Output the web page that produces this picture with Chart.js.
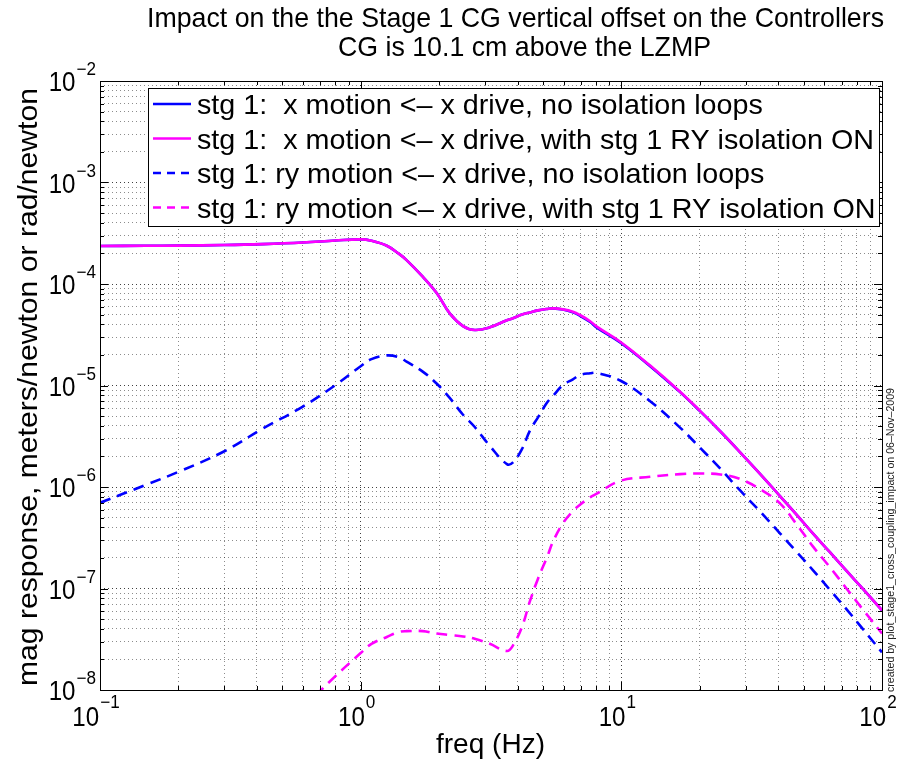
<!DOCTYPE html>
<html><head><meta charset="utf-8">
<script src="https://cdn.jsdelivr.net/npm/chart.js@4.4.1/dist/chart.umd.min.js"></script>
<style>html,body{margin:0;padding:0;background:#fff}canvas{display:block}</style>
</head><body>
<canvas id="c" width="905" height="763"></canvas>
<script>
// ---- data ----
const freq = [0.1, 0.15, 0.2, 0.3, 0.42, 0.6, 0.8, 1.0, 1.1, 1.26, 1.4, 1.5, 1.73, 1.96, 2.2, 2.47, 2.74, 3.13, 3.64, 3.84, 4.16, 4.46, 4.79, 5.19, 5.47, 5.97, 6.52, 6.94, 7.59, 8.05, 9.9, 12.9, 16.8, 20, 24, 28.5, 34.6, 40.6, 47, 54.3, 63, 73.3, 84.5, 100];
const xNoIso = [2.37e-4, 2.38e-4, 2.39e-4, 2.42e-4, 2.47e-4, 2.56e-4, 2.68e-4, 2.75e-4, 2.67e-4, 2.38e-4, 1.99e-4, 1.72e-4, 1.18e-4, 8.1e-5, 5.1e-5, 3.85e-5, 3.52e-5, 3.74e-5, 4.4e-5, 4.6e-5, 5.0e-5, 5.25e-5, 5.5e-5, 5.68e-5, 5.75e-5, 5.6e-5, 5.25e-5, 4.86e-5, 4.22e-5, 3.72e-5, 2.65e-5, 1.55e-5, 8.6e-6, 5.62e-6, 3.52e-6, 2.21e-6, 1.29e-6, 8.15e-7, 5.35e-7, 3.49e-7, 2.29e-7, 1.48e-7, 9.9e-8, 6.1e-8];
const xWithIso = [2.37e-4, 2.38e-4, 2.39e-4, 2.42e-4, 2.47e-4, 2.56e-4, 2.68e-4, 2.75e-4, 2.67e-4, 2.38e-4, 1.99e-4, 1.72e-4, 1.18e-4, 8.1e-5, 5.1e-5, 3.85e-5, 3.52e-5, 3.74e-5, 4.4e-5, 4.6e-5, 5.0e-5, 5.25e-5, 5.5e-5, 5.68e-5, 5.75e-5, 5.62e-5, 5.33e-5, 4.95e-5, 4.3e-5, 3.8e-5, 2.7e-5, 1.57e-5, 8.69e-6, 5.66e-6, 3.53e-6, 2.21e-6, 1.29e-6, 8.15e-7, 5.35e-7, 3.49e-7, 2.29e-7, 1.48e-7, 9.9e-8, 6.1e-8];
const ryNoIso = [7.0e-7, 1.05e-6, 1.41e-6, 2.25e-6, 3.75e-6, 6.2e-6, 1.01e-5, 1.55e-5, 1.82e-5, 1.98e-5, 1.9e-5, 1.72e-5, 1.37e-5, 1.04e-5, 7.5e-6, 5.15e-6, 3.9e-6, 2.54e-6, 1.68e-6, 1.75e-6, 2.37e-6, 3.6e-6, 4.86e-6, 6.8e-6, 7.9e-6, 1.01e-5, 1.15e-5, 1.27e-5, 1.32e-5, 1.33e-5, 1.12e-5, 7.0e-6, 3.85e-6, 2.45e-6, 1.51e-6, 9.3e-7, 5.5e-7, 3.5e-7, 2.3e-7, 1.52e-7, 9.75e-8, 6.2e-8, 3.98e-8, 2.35e-8];
const ryWithIso = [null, null, null, null, null, 6.6e-9, 1.37e-8, 2.31e-8, 2.85e-8, 3.33e-8, 3.73e-8, 3.8e-8, 3.8e-8, 3.6e-8, 3.48e-8, 3.37e-8, 3.2e-8, 2.85e-8, 2.42e-8, 2.75e-8, 4.2e-8, 7.5e-8, 1.25e-7, 2.04e-7, 2.9e-7, 4.4e-7, 5.8e-7, 6.7e-7, 7.9e-7, 8.6e-7, 1.15e-6, 1.26e-6, 1.34e-6, 1.36e-6, 1.33e-6, 1.2e-6, 9.3e-7, 6.9e-7, 4.3e-7, 2.6e-7, 1.63e-7, 9.9e-8, 6.2e-8, 3.6e-8];
const seriesLabels = [
  'stg 1:  x motion <\u2013 x drive, no isolation loops',
  'stg 1:  x motion <\u2013 x drive, with stg 1 RY isolation ON',
  'stg 1: ry motion <\u2013 x drive, no isolation loops',
  'stg 1: ry motion <\u2013 x drive, with stg 1 RY isolation ON'
];
const titleLines = ['Impact on the the Stage 1 CG vertical offset on the Controllers', 'CG is 10.1 cm above the LZMP'];
const xAxisTitle = 'freq (Hz)';
const yAxisTitle = 'mag response, meters/newton or rad/newton';
const footnote = 'created by plot_stage1_cross_coupling_impact on 06\u2013Nov\u20132009';
const xTickExps = [-1, 0, 1, 2];
const yTickExps = [-8, -7, -6, -5, -4, -3, -2];

// ---- helpers ----
const FONT = '"Liberation Sans", Arial, Helvetica, sans-serif';
function decadeValues(exps) {
  const out = [];
  for (let i = 0; i < exps.length - 1; i++) {
    for (let k = 1; k <= 9; k++) out.push(k * Math.pow(10, exps[i]));
  }
  out.push(Math.pow(10, exps[exps.length - 1]));
  return out;
}
function isMajor(v) { const l = Math.log10(v); return Math.abs(l - Math.round(l)) < 1e-9; }
const xGridVals = decadeValues(xTickExps);
const yGridVals = decadeValues(yTickExps);
const pts = arr => freq.map((f, i) => ({ x: f, y: arr[i] })).filter(p => p.y !== null);

function txt(ctx, s, x, y, size, align, opts) {
  opts = opts || {};
  ctx.save();
  ctx.font = size + 'px ' + FONT;
  let sx = 1;
  if (opts.width) sx = opts.width / ctx.measureText(s).width;
  if (opts.sx) sx = opts.sx;
  ctx.translate(x, y);
  if (opts.rot) ctx.rotate(opts.rot);
  ctx.scale(sx, 1);
  ctx.textAlign = align;
  ctx.textBaseline = 'alphabetic';
  ctx.fillStyle = opts.color || '#000';
  ctx.fillText(s, 0, 0);
  ctx.restore();
  return sx;
}
function measure(ctx, s, size) { ctx.save(); ctx.font = size + 'px ' + FONT; const w = ctx.measureText(s).width; ctx.restore(); return w; }

const styles = [
  { color: '#0000ff', dash: [] },
  { color: '#ff00ff', dash: [] },
  { color: '#0000ff', dash: [11, 7] },
  { color: '#ff00ff', dash: [11, 7] }
];

const decor = {
  id: 'decor',
  afterDraw(chart) {
    const ctx = chart.ctx;
    const a = chart.chartArea;
    const xs = chart.scales.x, ys = chart.scales.y;
    ctx.save();
    // tick marks (inward, all four sides)
    ctx.strokeStyle = '#000';
    ctx.lineWidth = 1;
    ctx.setLineDash([]);
    xGridVals.forEach(v => {
      const px = Math.round(xs.getPixelForValue(v)) + 0.5;
      const L = isMajor(v) ? 8 : 4;
      ctx.beginPath();
      ctx.moveTo(px, a.bottom); ctx.lineTo(px, a.bottom - L);
      ctx.moveTo(px, a.top); ctx.lineTo(px, a.top + L);
      ctx.stroke();
    });
    yGridVals.forEach(v => {
      const py = Math.round(ys.getPixelForValue(v)) + 0.5;
      const L = isMajor(v) ? 8 : 4;
      ctx.beginPath();
      ctx.moveTo(a.left, py); ctx.lineTo(a.left + L, py);
      ctx.moveTo(a.right, py); ctx.lineTo(a.right - L, py);
      ctx.stroke();
    });
    // box
    ctx.strokeRect(Math.round(a.left) + 0.5, Math.round(a.top) + 0.5, Math.round(a.right - a.left), Math.round(a.bottom - a.top));

    // y tick labels
    const B = 28, S = 18, BSX = 0.86;
    yTickExps.forEach(e => {
      const py = ys.getPixelForValue(Math.pow(10, e));
      const sup = '\u2212' + Math.abs(e);
      const ws = measure(ctx, sup, S) * 0.95;
      const right = a.left - 4;
      txt(ctx, sup, right - ws, py - 6, S, 'left', { sx: 0.95 });
      txt(ctx, '10', right - ws - 1, py + 10, B, 'right', { sx: BSX });
    });
    // x tick labels
    xTickExps.forEach(e => {
      const px = xs.getPixelForValue(Math.pow(10, e));
      const sup = e < 0 ? '\u2212' + Math.abs(e) : String(e);
      const ws = measure(ctx, sup, S) * 0.95;
      const wb = measure(ctx, '10', B) * BSX;
      const total = wb + 1 + ws;
      const left = px - 4 - total / 2;
      txt(ctx, '10', left, 726, B, 'left', { sx: BSX });
      txt(ctx, sup, left + wb + 1, 708, S, 'left', { sx: 0.95 });
    });
    // axis titles
    txt(ctx, xAxisTitle, 490.5, 753, 28, 'center', { width: 109 });
    txt(ctx, yAxisTitle, 37, 387, 28, 'center', { width: 598, rot: -Math.PI / 2 });
    // title
    const tsx = txt(ctx, titleLines[0], 515.5, 27, 28, 'center', { width: 737 });
    txt(ctx, titleLines[1], 524.5, 56, 28, 'center', { sx: tsx });
    // footnote
    txt(ctx, footnote, 893.5, 692, 10, 'left', { width: 304, rot: -Math.PI / 2, color: '#222' });

    // legend
    const lx = 148.5, ly = 88.5, lw = 731, lh = 138;
    ctx.fillStyle = '#fff';
    ctx.fillRect(lx, ly, lw, lh);
    ctx.strokeStyle = '#000'; ctx.lineWidth = 1; ctx.setLineDash([]);
    ctx.strokeRect(lx, ly, lw, lh);
    const rowY = [104, 138.5, 173, 207.5];
    const lsx = 677 / measure(ctx, seriesLabels[1], 28);
    seriesLabels.forEach((lab, i) => {
      ctx.save();
      ctx.strokeStyle = styles[i].color;
      ctx.lineWidth = 2.5;
      ctx.setLineDash(styles[i].dash.length ? [8, 6] : []);
      ctx.beginPath(); ctx.moveTo(153, rowY[i]); ctx.lineTo(191, rowY[i]); ctx.stroke();
      ctx.restore();
      txt(ctx, lab, 197, rowY[i] + 10, 28, 'left', { sx: lsx });
    });
    ctx.restore();
  }
};

const gridColor = c => isMajor(c.tick.value) ? 'rgba(0,0,0,0.75)' : 'rgba(0,0,0,0.45)';

new Chart(document.getElementById('c').getContext('2d'), {
  type: 'line',
  data: {
    datasets: [
      { label: seriesLabels[0], data: pts(xNoIso), borderColor: styles[0].color, borderWidth: 2.6, borderDash: styles[0].dash, order: 4 },
      { label: seriesLabels[1], data: pts(xWithIso), borderColor: styles[1].color, borderWidth: 2.6, borderDash: styles[1].dash, order: 3 },
      { label: seriesLabels[2], data: pts(ryNoIso), borderColor: styles[2].color, borderWidth: 2.6, borderDash: styles[2].dash, order: 2 },
      { label: seriesLabels[3], data: pts(ryWithIso), borderColor: styles[3].color, borderWidth: 2.6, borderDash: styles[3].dash, order: 1 }
    ]
  },
  options: {
    responsive: false,
    animation: false,
    layout: { padding: { left: 100, right: 23, top: 81, bottom: 73 } },
    plugins: { legend: { display: false }, tooltip: { enabled: false }, title: { display: false } },
    elements: { point: { radius: 0 }, line: { tension: 0.4, fill: false } },
    scales: {
      x: {
        type: 'logarithmic', min: 0.1, max: 100,
        afterBuildTicks: s => { s.ticks = xGridVals.map(v => ({ value: v })); },
        ticks: { display: false },
        grid: { color: gridColor, lineWidth: 1, drawTicks: false },
        border: { display: false, dash: [1, 3] }
      },
      y: {
        type: 'logarithmic', min: 1e-8, max: 1e-2,
        afterBuildTicks: s => { s.ticks = yGridVals.map(v => ({ value: v })); },
        ticks: { display: false },
        grid: { color: gridColor, lineWidth: 1, drawTicks: false },
        border: { display: false, dash: [1, 3] }
      }
    }
  },
  plugins: [decor]
});
</script>
</body></html>
